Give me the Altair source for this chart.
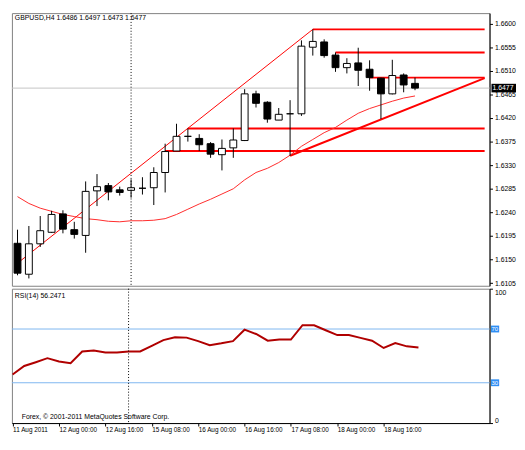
import altair as alt
import pandas as pd

# ---------------- data ----------------
SYMBOL = "GBPUSD,H4"
bars = list(range(36))
opens = [1.6181, 1.6122, 1.6180, 1.6202, 1.6237, 1.6207, 1.6196, 1.6281, 1.6291, 1.6283,
         1.6282, 1.6286, 1.6287, 1.6316, 1.6357, 1.6385, 1.6381, 1.6371, 1.6350, 1.6363,
         1.6377, 1.6466, 1.6450, 1.6416, 1.6428, 1.6428, 1.6555, 1.6565, 1.6540, 1.6516,
         1.6525, 1.6513, 1.6496, 1.6466, 1.6502, 1.6486]
highs = [1.6207, 1.6214, 1.6233, 1.6243, 1.6244, 1.6222, 1.6299, 1.6313, 1.6296, 1.6289,
         1.6303, 1.6307, 1.6326, 1.6371, 1.6409, 1.6400, 1.6389, 1.6374, 1.6379, 1.6400,
         1.6475, 1.6472, 1.6452, 1.6439, 1.6454, 1.6568, 1.6589, 1.6570, 1.6545, 1.6534,
         1.6554, 1.6530, 1.6497, 1.6531, 1.6505, 1.6497]
lows = [1.6120, 1.6114, 1.6174, 1.6201, 1.6200, 1.6190, 1.6163, 1.6252, 1.6263, 1.6272,
        1.6268, 1.6274, 1.6254, 1.6278, 1.6357, 1.6375, 1.6357, 1.6344, 1.6320, 1.6344,
        1.6376, 1.6440, 1.6411, 1.6416, 1.6348, 1.6424, 1.6539, 1.6535, 1.6508, 1.6505,
        1.6481, 1.6472, 1.6418, 1.6465, 1.6469, 1.6473]
closes = [1.6124, 1.6180, 1.6205, 1.6236, 1.6208, 1.6198, 1.6280, 1.6289, 1.6279, 1.6278,
          1.6287, 1.6286, 1.6316, 1.6356, 1.6385, 1.6385, 1.6369, 1.6351, 1.6362, 1.6378,
          1.6466, 1.6448, 1.6418, 1.6427, 1.6428, 1.6557, 1.6566, 1.6539, 1.6516, 1.6524,
          1.6511, 1.6497, 1.6466, 1.6501, 1.6483, 1.6477]
ma_line = [1.6270, 1.6257, 1.6248, 1.6242, 1.6236, 1.6232, 1.6228, 1.6226, 1.6223, 1.6222,
           1.6224, 1.6224, 1.6225, 1.6228, 1.6236, 1.6246, 1.6256, 1.6265, 1.6275, 1.6285,
           1.6302, 1.6316, 1.6324, 1.6335, 1.6349, 1.6366, 1.6379, 1.6392, 1.6402, 1.6416,
           1.6429, 1.6438, 1.6445, 1.6452, 1.6458, 1.6462]
rsi14 = [36.1, 42.5, 45.3, 48.3, 45.8, 44.6, 53.3, 54.0, 52.6, 52.6,
         53.3, 53.3, 57.5, 61.7, 63.9, 63.6, 61.0, 58.0, 59.4, 61.0,
         69.5, 66.3, 61.3, 62.2, 62.2, 72.8, 72.8, 69.1, 65.5, 65.5,
         63.4, 61.3, 55.9, 59.6, 57.1, 56.2471]

date_ticks = [0, 4, 8, 12, 16, 20, 24, 28, 32]
date_labels = ["11 Aug 2011", "12 Aug 00:00", "12 Aug 16:00", "15 Aug 08:00", "16 Aug 00:00",
               "16 Aug 16:00", "17 Aug 08:00", "18 Aug 00:00", "18 Aug 16:00"]
price_ticks = [1.6105, 1.6150, 1.6195, 1.6240, 1.6285, 1.6330, 1.6375, 1.6420,
               1.6465, 1.6510, 1.6555, 1.6600]

level_start = [26, 28, 31, 15, 13]
level_price = [1.6589, 1.6545, 1.6497, 1.6400, 1.6357]
thin_k = [-0.06, 26]
thin_p = [1.6142, 1.6589]
thick_k = [24, 41.13]
thick_p = [1.6348, 1.6496]
vline_bar = [10]
rsi_levels = [30, 70]
rsi_ticks = [0, 100]

# ---------------- layout / style ----------------
FONT = "Liberation Sans"
FS = 7
W = 487
H_MAIN = 278
H_RSI = 137
XDOM = [-0.06, 41.13]

df = pd.DataFrame(dict(k=bars, o=opens, h=highs, l=lows, c=closes, ma=ma_line, rsi=rsi14))
df["dir"] = ["up" if c >= o else "down" for o, c in zip(opens, closes)]

xs = alt.Scale(domain=XDOM, nice=False, zero=False)
ys = alt.Scale(domain=[1.6100, 1.6620], nice=False, zero=False)
rys = alt.Scale(domain=[0, 100], nice=False, zero=False)

yaxis = alt.Axis(orient="right", values=price_ticks, format=".4f", grid=False, tickSize=3,
                 labelPadding=2, title=None, labelFont=FONT, labelFontSize=FS,
                 domainColor="black", tickColor="black", labelColor="black")
ryaxis = alt.Axis(orient="right", values=rsi_ticks, grid=False, tickSize=3, labelFlush=True,
                  labelPadding=2, title=None, labelFont=FONT, labelFontSize=FS,
                  domainColor="black", tickColor="black", labelColor="black")
lab_arr = "[" + ",".join("'%s'" % s for s in date_labels) + "]"
tick_arr = "[" + ",".join(str(t) for t in date_ticks) + "]"
rxaxis = alt.Axis(orient="bottom", values=date_ticks,
                  labelExpr=lab_arr + "[indexof(" + tick_arr + ", datum.value)]",
                  labelAlign="left", labelBaseline="top", labelPadding=1, tickSize=3,
                  labelFlush=False, labelOverlap=False, grid=False, title=None,
                  labelFont=FONT, labelFontSize=6.5, domainColor="black", tickColor="black",
                  labelColor="black")


def X(f):
    return alt.X(f, type="quantitative", scale=xs, axis=None)


def Y(f):
    return alt.Y(f, type="quantitative", scale=ys, axis=yaxis)


def RX(f):
    return alt.X(f, type="quantitative", scale=xs, axis=rxaxis)


def RY(f):
    return alt.Y(f, type="quantitative", scale=rys, axis=ryaxis)


# ---------------- main price panel ----------------
last = pd.DataFrame(dict(p=[closes[-1]], t=["%.4f" % closes[-1]]))
bid = alt.Chart(last).mark_rule(color="#C4C4C4", strokeWidth=1).encode(y=Y("p"))

lv = pd.DataFrame(dict(s=level_start, e=[XDOM[1]] * len(level_start), p=level_price))
levels = alt.Chart(lv).mark_rule(color="#FF0000", strokeWidth=2).encode(
    x=X("s"), x2=alt.X2("e"), y=Y("p"))

thin = alt.Chart(pd.DataFrame(dict(k=thin_k, p=thin_p))).mark_line(
    color="#FF0000", strokeWidth=1, clip=True).encode(x=X("k"), y=Y("p"))
thick = alt.Chart(pd.DataFrame(dict(k=thick_k, p=thick_p))).mark_line(
    color="#FF0000", strokeWidth=2).encode(x=X("k"), y=Y("p"))
ma = alt.Chart(df).mark_line(color="#FF2A2A", strokeWidth=1).encode(x=X("k"), y=Y("ma"))

wicks = alt.Chart(df).mark_rule(color="black", strokeWidth=1).encode(
    x=X("k"), y=Y("l"), y2=alt.Y2("h"))
bodies = alt.Chart(df).mark_bar(size=7, stroke="black", strokeWidth=1, opacity=1).encode(
    x=X("k"), y=Y("o"), y2=alt.Y2("c"),
    fill=alt.Fill("dir:N", scale=alt.Scale(domain=["up", "down"], range=["white", "black"]),
                  legend=None))

vdf = pd.DataFrame(dict(k=vline_bar))
vline = alt.Chart(vdf).mark_rule(color="black", strokeWidth=1, strokeDash=[1, 2]).encode(x=X("k"))

header_txt = "%s  %.4f %.4f %.4f %.4f" % (SYMBOL, opens[-1], highs[-1], lows[-1], closes[-1])
header = alt.Chart(pd.DataFrame(dict(t=[header_txt]))).mark_text(
    align="left", baseline="middle", font=FONT, fontSize=FS, color="black").encode(
    x=alt.value(3), y=alt.value(5), text="t:N")

pbox = alt.Chart(last).mark_point(shape="M0,-0.35H2V0.35H0Z", filled=True, fill="black",
                                  strokeWidth=0, size=625, opacity=1).encode(
    x=alt.value(W + 2), y=Y("p"))
ptxt = alt.Chart(last).mark_text(align="left", baseline="middle", color="white", font=FONT,
                                 fontSize=FS).encode(x=alt.value(W + 3), y=Y("p"), text="t:N")

main = alt.layer(bid, levels, thin, thick, ma, wicks, bodies, vline, header, pbox, ptxt).properties(
    width=W, height=H_MAIN)

# ---------------- RSI panel ----------------
ldf = pd.DataFrame(dict(v=rsi_levels))
rlev = alt.Chart(ldf).mark_rule(color="#7DB6F0", strokeWidth=1).encode(y=RY("v"))
rline = alt.Chart(df).mark_line(color="#B00000", strokeWidth=2).encode(x=RX("k"), y=RY("rsi"))
rv = alt.Chart(vdf).mark_rule(color="black", strokeWidth=1, strokeDash=[1, 2]).encode(x=RX("k"))
rsi_txt = "RSI(14) %.4f" % rsi14[-1]
rlab = alt.Chart(pd.DataFrame(dict(t=[rsi_txt]))).mark_text(
    align="left", baseline="middle", font=FONT, fontSize=FS, color="black").encode(
    x=alt.value(3), y=alt.value(7), text="t:N")
copy = alt.Chart(pd.DataFrame(dict(t=["Forex, \u00a9 2001-2011 MetaQuotes Software Corp."]))).mark_text(
    align="left", baseline="middle", font=FONT, fontSize=FS, color="black").encode(
    x=alt.value(10), y=alt.value(H_RSI - 6), text="t:N")
lbox = alt.Chart(ldf).mark_point(shape="M0,-0.84H2V0.84H0Z", filled=True, fill="#2F8FF5",
                                 strokeWidth=0, size=69, opacity=1).encode(
    x=alt.value(W + 1.5), y=RY("v"))
ltxt = alt.Chart(ldf).mark_text(align="left", baseline="middle", color="white", font=FONT,
                                fontSize=6).encode(x=alt.value(W + 2), y=RY("v"), text=alt.Text("v:Q"))

rsi_panel = alt.layer(rlev, rline, rv, rlab, copy, lbox, ltxt).properties(width=W, height=H_RSI)

chart = alt.vconcat(main, rsi_panel, spacing=3, bounds="flush").properties(
    padding=0,
    background="white",
).configure_view(stroke="#808080", strokeWidth=1)

chart.save("out.html", embed_options={"renderer": "svg", "actions": False})
